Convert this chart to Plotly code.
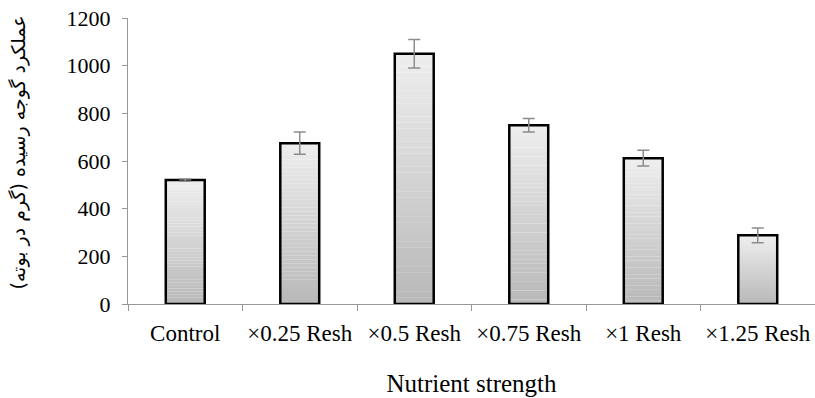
import plotly.graph_objects as go

categories = ["Control", "×0.25 Resh", "×0.5 Resh", "×0.75 Resh", "×1 Resh", "×1.25 Resh"]
yield_values = [520, 675, 1050, 750, 612, 288]
yield_errors = [5, 47, 60, 28, 33, 31]
y_ticks = [0, 200, 400, 600, 800, 1000, 1200]

FONT = "'Liberation Serif', 'Times New Roman', Times, serif"
N_SEG = 40
BAR_W = 0.34

def lerp(c1, c2, t):
    return "rgb(%d,%d,%d)" % tuple(round(a + (b - a) * t) for a, b in zip(c1, c2))

bottom_col = (184, 184, 184)
top_col = (238, 238, 238)

fig = go.Figure()
for k in range(N_SEG):
    t = (k + 0.5) / N_SEG
    fig.add_trace(go.Bar(
        x=categories,
        y=[v / N_SEG * 1.02 for v in yield_values],
        base=[v * k / N_SEG for v in yield_values],
        width=BAR_W,
        marker=dict(color=lerp(bottom_col, top_col, t), line=dict(width=0)),
        showlegend=False, hoverinfo="skip",
    ))

fig.add_trace(go.Bar(
    x=categories, y=yield_values, width=BAR_W,
    marker=dict(color="rgba(0,0,0,0)", line=dict(color="black", width=2.5)),
    error_y=dict(type="data", array=yield_errors, color="#8c8c8c", thickness=1.5, width=6),
    showlegend=False,
))

fig.update_layout(
    width=815, height=398,
    margin=dict(l=128, r=0, t=18, b=94),
    barmode="overlay",
    plot_bgcolor="white", paper_bgcolor="white",
    font=dict(family=FONT, color="black", size=18),
    xaxis=dict(
        type="category", tickson="boundaries", ticks="outside", ticklen=6,
        tickcolor="#999999", showline=True, linecolor="#999999", linewidth=1,
        tickfont=dict(size=23, family=FONT), showgrid=False, ticklabelstandoff=8,
        title=dict(text="Nutrient strength", font=dict(size=25, family=FONT), standoff=29),
    ),
    yaxis=dict(
        range=[0, 1200], tickvals=y_ticks, ticks="outside", ticklen=5,
        tickcolor="#999999", showline=True, linecolor="#999999", linewidth=1,
        tickfont=dict(size=22, family=FONT), showgrid=False, zeroline=False,
        ticklabelstandoff=7,
    ),
    annotations=[dict(
        text="عملکرد گوجه رسیده (گرم در بوته)",
        xref="paper", yref="paper", x=-0.16, y=0.53,
        xanchor="center", yanchor="middle", textangle=-90, showarrow=False,
        font=dict(size=19, family="DejaVu Sans", color="black"),
    )],
)

fig.write_html("out.html", config={"displayModeBar": False},
               post_script="document.body.style.margin='0';document.body.style.overflow='hidden';")
